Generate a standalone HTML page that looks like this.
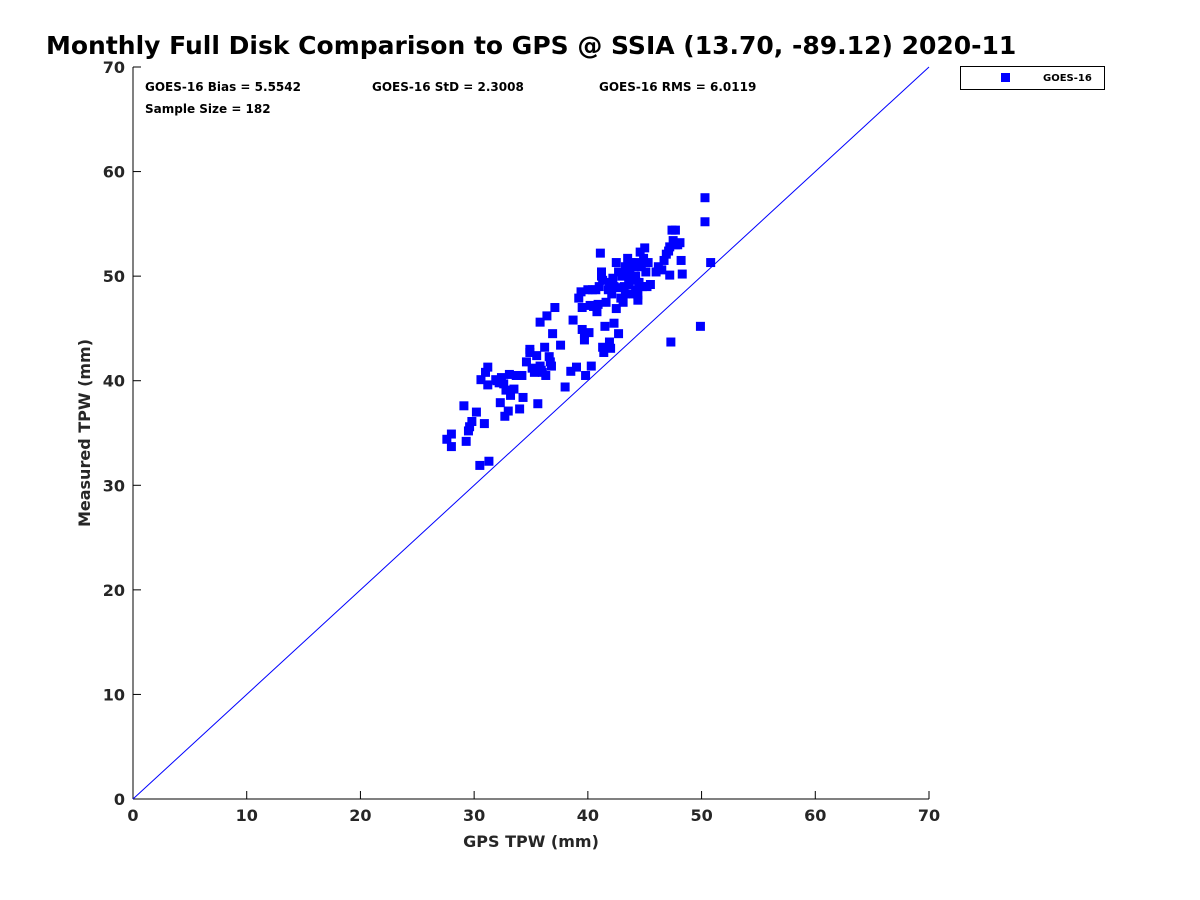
<!DOCTYPE html>
<html><head><meta charset="utf-8"><style>
body{margin:0;background:#fff;}
svg{display:block;font-family:"DejaVu Sans",sans-serif;}
</style></head><body>
<svg id="chart" width="1200" height="900">
<text x="46" y="54" font-size="25" font-weight="bold">Monthly Full Disk Comparison to GPS @ SSIA (13.70, -89.12) 2020-11</text>
<rect x="133" y="67" width="796" height="732" fill="none" stroke="none"/>
<line x1="133" y1="67" x2="133" y2="799" stroke="#000"/>
<line x1="133" y1="799" x2="929" y2="799" stroke="#000"/>
<g id="ticks"></g>
<line id="oneline" stroke="#0000ff" stroke-width="1"/>
<g id="points"></g>
<text x="145" y="91" font-size="12" font-weight="bold">GOES-16 Bias = 5.5542</text>
<text x="372" y="91" font-size="12" font-weight="bold">GOES-16 StD = 2.3008</text>
<text x="599" y="91" font-size="12" font-weight="bold">GOES-16 RMS = 6.0119</text>
<text x="145" y="113" font-size="12" font-weight="bold">Sample Size = 182</text>
<g>
<rect x="960.5" y="66.5" width="144" height="23" fill="#fff" stroke="#000"/>
<rect x="1001" y="73" width="9" height="9" fill="#0000ff"/>
<text x="1043" y="81" font-size="10" font-weight="bold">GOES-16</text>
</g>
<text x="531" y="847" font-size="16" font-weight="bold" text-anchor="middle" fill="#262626">GPS TPW (mm)</text>
<text transform="translate(90,433) rotate(-90)" font-size="16" font-weight="bold" text-anchor="middle" fill="#262626">Measured TPW (mm)</text>
</svg>
<script>
const ticks=[0,10,20,30,40,50,60,70];
const gpsX=[27.6,28.0,28.0,29.1,29.3,29.5,29.6,29.8,30.2,30.5,31.3,30.6,30.9,31.0,31.2,31.2,31.9,32.2,32.3,32.4,32.6,32.7,32.8,33.0,33.1,33.2,33.7,34.0,34.2,34.3,34.6,34.9,34.9,35.1,35.3,35.5,35.6,35.8,35.8,36.0,36.2,36.3,36.4,36.6,36.7,36.8,36.9,37.1,37.6,38.0,38.5,38.7,39.0,39.2,39.4,39.5,39.5,39.7,39.7,39.8,40.0,40.1,40.2,40.3,40.4,40.5,40.7,40.8,40.9,41.1,41.2,41.2,41.3,41.3,41.4,41.5,41.6,41.8,41.9,41.9,42.0,42.1,42.2,42.3,42.3,42.5,42.5,42.7,42.7,42.8,42.9,43.0,43.1,43.2,43.3,43.3,43.4,43.5,43.6,43.7,43.8,43.9,44.0,44.1,44.2,44.2,44.3,44.4,44.5,44.6,44.7,44.8,44.9,45.0,45.1,45.2,45.3,45.5,46.0,46.2,46.5,46.7,46.9,47.1,47.2,47.3,47.4,47.5,47.2,47.7,47.7,47.9,48.1,48.2,48.3,49.9,50.3,50.3,50.8,33.5,32.0,35.9,41.0,43.6,44.4];
const measY=[34.4,33.7,34.9,37.6,34.2,35.2,35.6,36.1,37.0,31.9,32.3,40.1,35.9,40.8,41.3,39.6,40.1,39.8,37.9,40.3,39.7,36.6,39.1,37.1,40.6,38.6,40.5,37.3,40.5,38.4,41.8,43.0,42.7,41.2,40.8,42.4,37.8,45.6,41.4,40.8,43.2,40.5,46.2,42.3,41.8,41.4,44.5,47.0,43.4,39.4,40.9,45.8,41.3,47.9,48.5,44.9,47.0,44.5,43.9,40.5,48.7,44.6,47.2,41.4,48.7,47.1,48.7,46.6,47.3,52.2,50.0,50.4,49.6,43.2,42.7,45.2,47.5,48.7,43.7,49.4,43.1,48.3,49.8,49.0,45.5,51.3,46.9,50.4,44.5,48.9,47.9,50.0,47.5,49.0,50.9,48.3,50.2,51.7,49.2,50.6,51.3,49.6,48.3,50.9,48.7,50.0,51.3,47.7,49.4,52.3,50.9,49.0,51.7,52.7,50.4,49.0,51.3,49.2,50.4,50.9,50.6,51.5,52.1,52.4,52.8,43.7,54.4,53.4,50.1,54.4,53.0,53.0,53.2,51.5,50.2,45.2,57.5,55.2,51.3,39.2,40.0,41.0,49.0,49.8,48.2];
const NS='http://www.w3.org/2000/svg';
const X0=133,X1=929,Y0=799,Y1=67,MAX=70;
function sx(v){return X0+(X1-X0)*v/MAX;}
function sy(v){return Y0-(Y0-Y1)*v/MAX;}
const tg=document.getElementById('ticks');
ticks.forEach(t=>{
 let l=document.createElementNS(NS,'line');
 l.setAttribute('x1',sx(t));l.setAttribute('x2',sx(t));l.setAttribute('y1',Y0);l.setAttribute('y2',Y0-8);l.setAttribute('stroke','#000');
 
 
 tg.appendChild(l);
 let l2=document.createElementNS(NS,'line');
 l2.setAttribute('x1',X0);l2.setAttribute('x2',X0+8);l2.setAttribute('y1',sy(t));l2.setAttribute('y2',sy(t));l2.setAttribute('stroke','#000');
 
 
 tg.appendChild(l2);
 let tx=document.createElementNS(NS,'text');
 tx.setAttribute('x',sx(t));tx.setAttribute('y',Y0+22);tx.setAttribute('text-anchor','middle');tx.setAttribute('font-size','16');tx.setAttribute('font-weight','bold');tx.setAttribute('fill','#262626');
 tx.textContent=t;
 
 
 tg.appendChild(tx);
 let ty=document.createElementNS(NS,'text');
 ty.setAttribute('x',X0-8);ty.setAttribute('y',sy(t)+6);ty.setAttribute('text-anchor','end');ty.setAttribute('font-size','16');ty.setAttribute('font-weight','bold');ty.setAttribute('fill','#262626');
 ty.textContent=t;
 
 
 tg.appendChild(ty);
});
const ol=document.getElementById('oneline');
ol.setAttribute('x1',sx(0));ol.setAttribute('y1',sy(0));ol.setAttribute('x2',sx(MAX));ol.setAttribute('y2',sy(MAX));
const pg=document.getElementById('points');
gpsX.forEach((x,i)=>{
 let r=document.createElementNS(NS,'rect');
 r.setAttribute('x',sx(x)-4.5);r.setAttribute('y',sy(measY[i])-4.5);r.setAttribute('width',9);r.setAttribute('height',9);r.setAttribute('fill','#0000ff');
 
 
 pg.appendChild(r);
});
</script>
</body></html>
